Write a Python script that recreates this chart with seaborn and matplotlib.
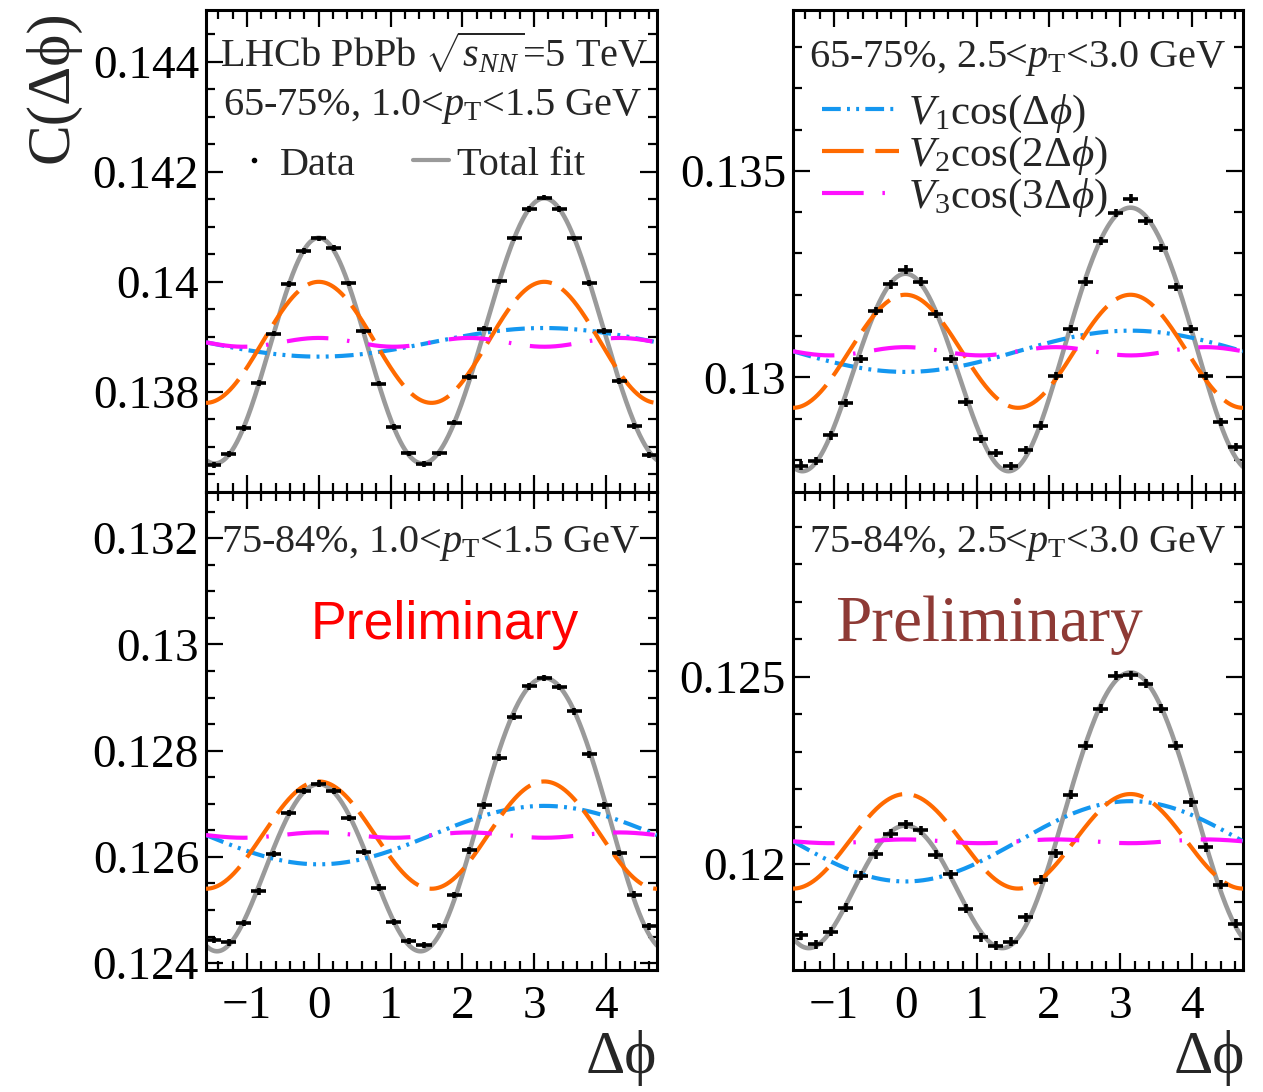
import numpy as np
import pandas as pd
import matplotlib
matplotlib.use("Agg")
import matplotlib.pyplot as plt
import seaborn as sns
from matplotlib.lines import Line2D
from matplotlib.ticker import MultipleLocator, FuncFormatter

# ---------------- data ----------------
n_bins = 30
dphi_lo, dphi_hi = -np.pi / 2, 3 * np.pi / 2

panel_titles = ["65-75%, 1.0<$p_{\\rm T}$<1.5 GeV",
                "65-75%, 2.5<$p_{\\rm T}$<3.0 GeV",
                "75-84%, 1.0<$p_{\\rm T}$<1.5 GeV",
                "75-84%, 2.5<$p_{\\rm T}$<3.0 GeV"]

data_tl = [0.13667, 0.13687, 0.13734, 0.13816, 0.13906, 0.13996, 0.14056, 0.14079, 0.14061, 0.13997,
           0.13910, 0.13815, 0.13736, 0.13688, 0.13669, 0.13688, 0.13744, 0.13827, 0.13915, 0.14001,
           0.14079, 0.14132, 0.14153, 0.14132, 0.14079, 0.13998, 0.13911, 0.13820, 0.13738, 0.13685]
data_tr = [0.12786, 0.12798, 0.12859, 0.12938, 0.13045, 0.13160, 0.13225, 0.13261, 0.13232, 0.13154,
           0.13045, 0.12940, 0.12851, 0.12817, 0.12785, 0.12823, 0.12883, 0.13004, 0.13117, 0.13232,
           0.13330, 0.13398, 0.13433, 0.13378, 0.13313, 0.13218, 0.13117, 0.13004, 0.12891, 0.12831]
data_bl = [0.12443, 0.12439, 0.12476, 0.12535, 0.12605, 0.12683, 0.12724, 0.12738, 0.12724, 0.12673,
           0.12609, 0.12542, 0.12477, 0.12442, 0.12434, 0.12469, 0.12528, 0.12612, 0.12697, 0.12787,
           0.12864, 0.12921, 0.12937, 0.12920, 0.12874, 0.12793, 0.12697, 0.12607, 0.12529, 0.12469]
data_br = [0.11810, 0.11787, 0.11820, 0.11884, 0.11969, 0.12027, 0.12081, 0.12107, 0.12090, 0.12025,
           0.11973, 0.11881, 0.11805, 0.11782, 0.11793, 0.11858, 0.11958, 0.12029, 0.12185, 0.12316,
           0.12414, 0.12502, 0.12503, 0.12481, 0.12414, 0.12316, 0.12165, 0.12045, 0.11945, 0.11841]
data_err = [0.00005, 0.00010, 0.00006, 0.00012]

# Fourier fit parameters: baseline and V1..V4 amplitudes (component curves = A0 + Vn cos(n dphi),
# total fit = A0 + 2 * sum Vn cos(n dphi))
fit_a0 = [0.13890, 0.13063, 0.12641, 0.12061]
fit_v1 = [-0.00026, -0.00050, -0.00055, -0.00107]
fit_v2 = [0.00110, 0.00137, 0.00101, 0.00126]
fit_v3 = [0.00008, 0.00010, 0.00005, 0.00005]
fit_v4 = [0.00003, -0.00003, -0.00003, -0.00003]

y_limits = [(0.13618, 0.14494), (0.12722, 0.13890), (0.12387, 0.13287), (0.11718, 0.12992)]
y_major = [0.002, 0.005, 0.002, 0.005]
y_minor = [0.0005, 0.001, 0.0005, 0.001]

# ---------------- style ----------------
sns.set_theme(style="ticks")
serif = ["Liberation Serif", "DejaVu Serif"]
plt.rcParams["font.family"] = serif
plt.rcParams["mathtext.fontset"] = "custom"
plt.rcParams["mathtext.rm"] = "Liberation Serif"
plt.rcParams["mathtext.it"] = "Liberation Serif:italic"
plt.rcParams["mathtext.bf"] = "Liberation Serif:bold"
plt.rcParams["axes.unicode_minus"] = True

W, H = 1263, 1092
fig = plt.figure(figsize=(W / 100, H / 100), dpi=100)

def fx(px):
    return px / W

def fy(py):
    return 1 - py / H

rects = [(206, 10, 657, 492), (793, 10, 1243, 492), (206, 492, 657, 970), (793, 492, 1243, 970)]
all_data = [data_tl, data_tr, data_bl, data_br]

edges = np.linspace(dphi_lo, dphi_hi, n_bins + 1)
centers = 0.5 * (edges[1:] + edges[:-1])
half_w = 0.5 * (edges[1] - edges[0])
xx = np.linspace(dphi_lo, dphi_hi, 600)

c_total = "#9a9a9a"
c_v1 = "#1497f0"
c_v2 = "#ff6a00"
c_v3 = "#ff10ff"
dash_v1 = [4.5, 1.5, 0.7, 1.5, 0.7, 1.5]
dash_v2 = [10, 2.8]
dash_v3 = [10, 4.5, 0.6, 4.5]
LW = 3.0

axes = []
for k, (x0, y0, x1, y1) in enumerate(rects):
    ax = fig.add_axes([fx(x0), fy(y1), fx(x1 - x0), (y1 - y0) / H])
    axes.append(ax)
    a0, v1, v2, v3, v4 = fit_a0[k], fit_v1[k], fit_v2[k], fit_v3[k], fit_v4[k]
    df = pd.DataFrame({
        "dphi": xx,
        "total": a0 + 2 * (v1 * np.cos(xx) + v2 * np.cos(2 * xx) + v3 * np.cos(3 * xx) + v4 * np.cos(4 * xx)),
        "c1": a0 + v1 * np.cos(xx),
        "c2": a0 + v2 * np.cos(2 * xx),
        "c3": a0 + v3 * np.cos(3 * xx),
    })
    sns.lineplot(data=df, x="dphi", y="total", ax=ax, color=c_total, linewidth=LW + 0.3, zorder=2)
    for col, colr, dsh in [("c1", c_v1, dash_v1), ("c2", c_v2, dash_v2), ("c3", c_v3, dash_v3)]:
        sns.lineplot(data=df, x="dphi", y=col, ax=ax, color=colr, linewidth=LW, zorder=3)
        ax.get_lines()[-1].set_dashes(dsh)
        ax.get_lines()[-1].set_dash_capstyle("butt")
    ax.errorbar(centers, all_data[k], xerr=half_w, yerr=data_err[k], fmt="none",
                ecolor="black", elinewidth=2.6, capsize=0, zorder=5)

    ax.set_xlim(dphi_lo, dphi_hi)
    ax.set_ylim(*y_limits[k])
    ax.set_xlabel("")
    ax.set_ylabel("")
    ax.xaxis.set_major_locator(MultipleLocator(1))
    ax.xaxis.set_minor_locator(MultipleLocator(0.2))
    ax.yaxis.set_major_locator(MultipleLocator(y_major[k]))
    ax.yaxis.set_minor_locator(MultipleLocator(y_minor[k]))
    ax.yaxis.set_major_formatter(FuncFormatter(lambda v, p: f"{round(v, 6):g}"))
    ax.tick_params(which="both", direction="in", top=True, right=True, width=1.6,
                   colors="black", labelsize=34)
    ax.tick_params(which="major", length=12.5, pad=5)
    ax.tick_params(which="minor", length=6.5)
    ax.tick_params(axis="x", which="major", pad=11)
    if k < 2:
        ax.tick_params(axis="x", labelbottom=False)
    for sp in ax.spines.values():
        sp.set_linewidth(2.2)
        sp.set_color("black")
    ax.set_facecolor("white")

# ---------------- texts ----------------
fs_txt = 29
fig.text(fx(434), fy(67), "LHCb PbPb $\\sqrt{s_{NN}}$=5 TeV", ha="center", va="baseline", fontsize=fs_txt)
fig.text(fx(433), fy(115), panel_titles[0], ha="center", va="baseline", fontsize=fs_txt)
fig.text(fx(1018), fy(67), panel_titles[1], ha="center", va="baseline", fontsize=fs_txt)
fig.text(fx(431), fy(552), panel_titles[2], ha="center", va="baseline", fontsize=fs_txt)
fig.text(fx(1018), fy(552), panel_titles[3], ha="center", va="baseline", fontsize=fs_txt)

fig.text(fx(445), fy(625), "Preliminary", ha="center", va="center", color="#ff0000",
         fontsize=38.5, family=["Liberation Sans", "DejaVu Sans"])
fig.text(fx(989), fy(625), "Preliminary", ha="center", va="center", color="#8e3a35",
         fontsize=47, family=serif)

fig.text(fx(52), fy(10), "C(Δϕ)", rotation=90, ha="center", va="top", fontsize=44, family=serif)
fig.text(fx(657), fy(1073), "Δϕ", ha="right", va="baseline", fontsize=44, family=serif)
fig.text(fx(1245), fy(1073), "Δϕ", ha="right", va="baseline", fontsize=44, family=serif)

# legends
h_data = Line2D([], [], marker="o", markersize=3, color="black", linestyle="none")
h_fit = Line2D([], [], color=c_total, linewidth=LW)
axes[0].legend([h_data, h_fit], ["Data", "Total fit"], ncol=2, frameon=False, fontsize=fs_txt,
               loc="center left", bbox_to_anchor=(fx(236), fy(165)), bbox_transform=fig.transFigure,
               handlelength=0.9, handletextpad=0.2, columnspacing=1.4, borderpad=0, borderaxespad=0)

h1 = Line2D([], [], color=c_v1, linewidth=LW, dashes=dash_v1)
h2 = Line2D([], [], color=c_v2, linewidth=LW, dashes=dash_v2)
h3 = Line2D([], [], color=c_v3, linewidth=LW, dashes=dash_v3)
labels = ["$V_{1}$cos($\\mathit{\\Delta}\\phi$)", "$V_{2}$cos(2$\\mathit{\\Delta}\\phi$)",
          "$V_{3}$cos(3$\\mathit{\\Delta}\\phi$)"]
axes[1].legend([h1, h2, h3], labels, frameon=False, fontsize=31,
               loc="center left", bbox_to_anchor=(fx(822), fy(156)), bbox_transform=fig.transFigure,
               handlelength=1.8, handletextpad=0.2, labelspacing=0.0, borderpad=0, borderaxespad=0)

fig.savefig("out.png", dpi=100, facecolor="white")
